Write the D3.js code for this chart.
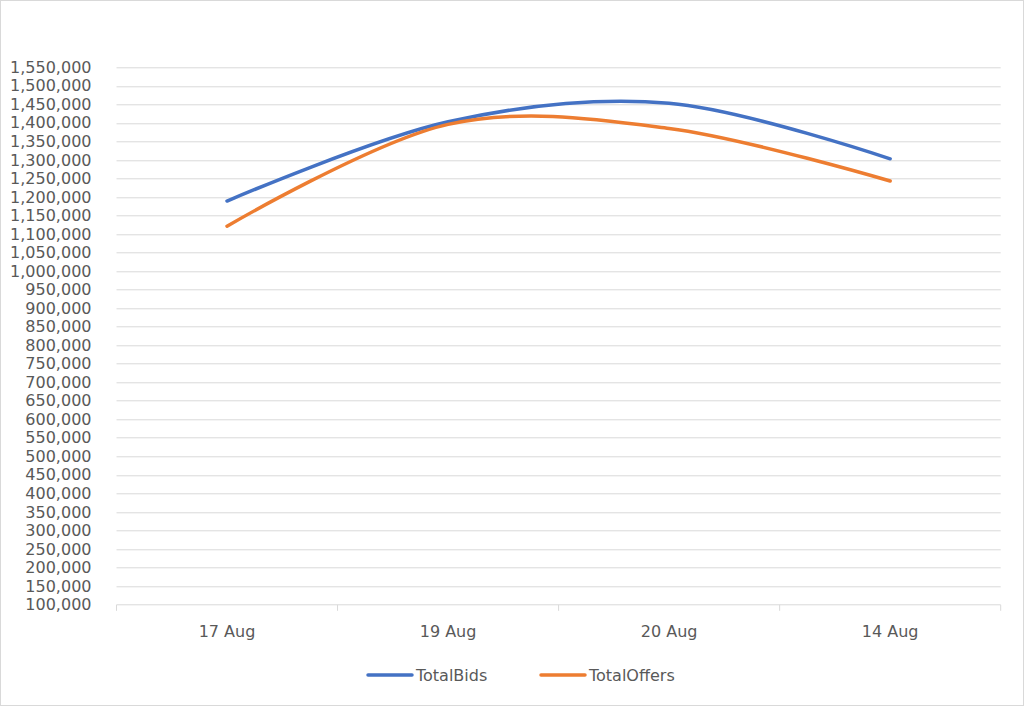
<!DOCTYPE html>
<html>
<head>
<meta charset="utf-8">
<script src="https://cdn.jsdelivr.net/npm/d3@7"></script>
<style>
  body { margin: 0; background: #fff; }
  svg { display: block; font-family: "DejaVu Sans", sans-serif; }
  .grid line { stroke: #d9d9d9; stroke-width: 1; }
  .tick text { fill: #595959; }
  .line { fill: none; stroke-width: 3.5; stroke-linecap: round; }
</style>
</head>
<body>
<div id="chart"></div>
<script>
const categories = ["17 Aug", "19 Aug", "20 Aug", "14 Aug"];
const totalBids = [1189000, 1403000, 1453000, 1303000];
const totalOffers = [1121000, 1396000, 1385000, 1243000];
const seriesNames = ["TotalBids", "TotalOffers"];
const seriesColors = ["#4472C4", "#ED7D31"];
const yTicks = d3.range(100000, 1550001, 50000);

const width = 1024;
const height = 706;
const margin = { top: 67.3, right: 23.3, bottom: 101.5, left: 116.5 };
const plot = {
  width: width - margin.left - margin.right,
  height: height - margin.top - margin.bottom,
};

const svg = d3
  .select("#chart")
  .append("svg")
  .attr("width", width)
  .attr("height", height);

// outer chart border
svg
  .append("rect")
  .attr("x", 0.5)
  .attr("y", 0.5)
  .attr("width", width - 1)
  .attr("height", height - 1)
  .attr("fill", "#fff")
  .attr("stroke", "#d9d9d9");

const g = svg
  .append("g")
  .attr("transform", `translate(${margin.left},${margin.top})`);

const xScale = d3.scaleBand().domain(categories).range([0, plot.width]);
const yScale = d3
  .scaleLinear()
  .domain([100000, 1550000])
  .range([plot.height, 0]);

// horizontal gridlines
g.append("g")
  .attr("class", "grid")
  .selectAll("line")
  .data(yTicks.slice(1))
  .enter()
  .append("line")
  .attr("x1", 0)
  .attr("x2", plot.width)
  .attr("y1", (d) => Math.round(yScale(d)) + 0.5)
  .attr("y2", (d) => Math.round(yScale(d)) + 0.5);

// y axis labels, no axis line
const yAxis = g
  .append("g")
  .call(
    d3
      .axisLeft(yScale)
      .tickValues(yTicks)
      .tickSize(0)
      .tickPadding(25)
      .tickFormat(d3.format(",")),
  );
yAxis.select(".domain").remove();
yAxis.selectAll("text").attr("font-size", 16).attr("font-family", "DejaVu Sans");

// x axis line with ticks between categories
const xAxisG = g
  .append("g")
  .attr("transform", `translate(0,${Math.round(plot.height) + 0.5})`);
xAxisG
  .append("line")
  .attr("x1", 0)
  .attr("x2", plot.width)
  .attr("stroke", "#d9d9d9");
const tickPos = categories.map((c) => xScale(c)).concat([plot.width]);
xAxisG
  .selectAll(".xtick")
  .data(tickPos)
  .enter()
  .append("line")
  .attr("x1", (d) => d)
  .attr("x2", (d) => d)
  .attr("y1", 0)
  .attr("y2", 6)
  .attr("stroke", "#d9d9d9");
xAxisG
  .selectAll(".xlabel")
  .data(categories)
  .enter()
  .append("text")
  .attr("x", (d) => xScale(d) + xScale.bandwidth() / 2)
  .attr("y", 32)
  .attr("text-anchor", "middle")
  .attr("font-size", 16)
  .attr("fill", "#595959")
  .text((d) => d);

// smoothed lines
const line = d3
  .line()
  .x((d, i) => xScale(categories[i]) + xScale.bandwidth() / 2)
  .y((d) => yScale(d))
  .curve(d3.curveCardinal.tension(0));

[totalBids, totalOffers].forEach((values, i) => {
  g.append("path")
    .datum(values)
    .attr("class", "line")
    .attr("stroke", seriesColors[i])
    .attr("d", line);
});

// legend
const legend = svg.append("g").attr("transform", "translate(0,675)");
const legendX = [368, 541];
seriesNames.forEach((name, i) => {
  legend
    .append("line")
    .attr("x1", legendX[i])
    .attr("x2", legendX[i] + 44)
    .attr("stroke", seriesColors[i])
    .attr("stroke-width", 3.5)
    .attr("stroke-linecap", "round");
  legend
    .append("text")
    .attr("x", legendX[i] + 48)
    .attr("y", 6)
    .attr("font-size", 16)
    .attr("fill", "#595959")
    .text(name);
});
</script>
</body>
</html>
